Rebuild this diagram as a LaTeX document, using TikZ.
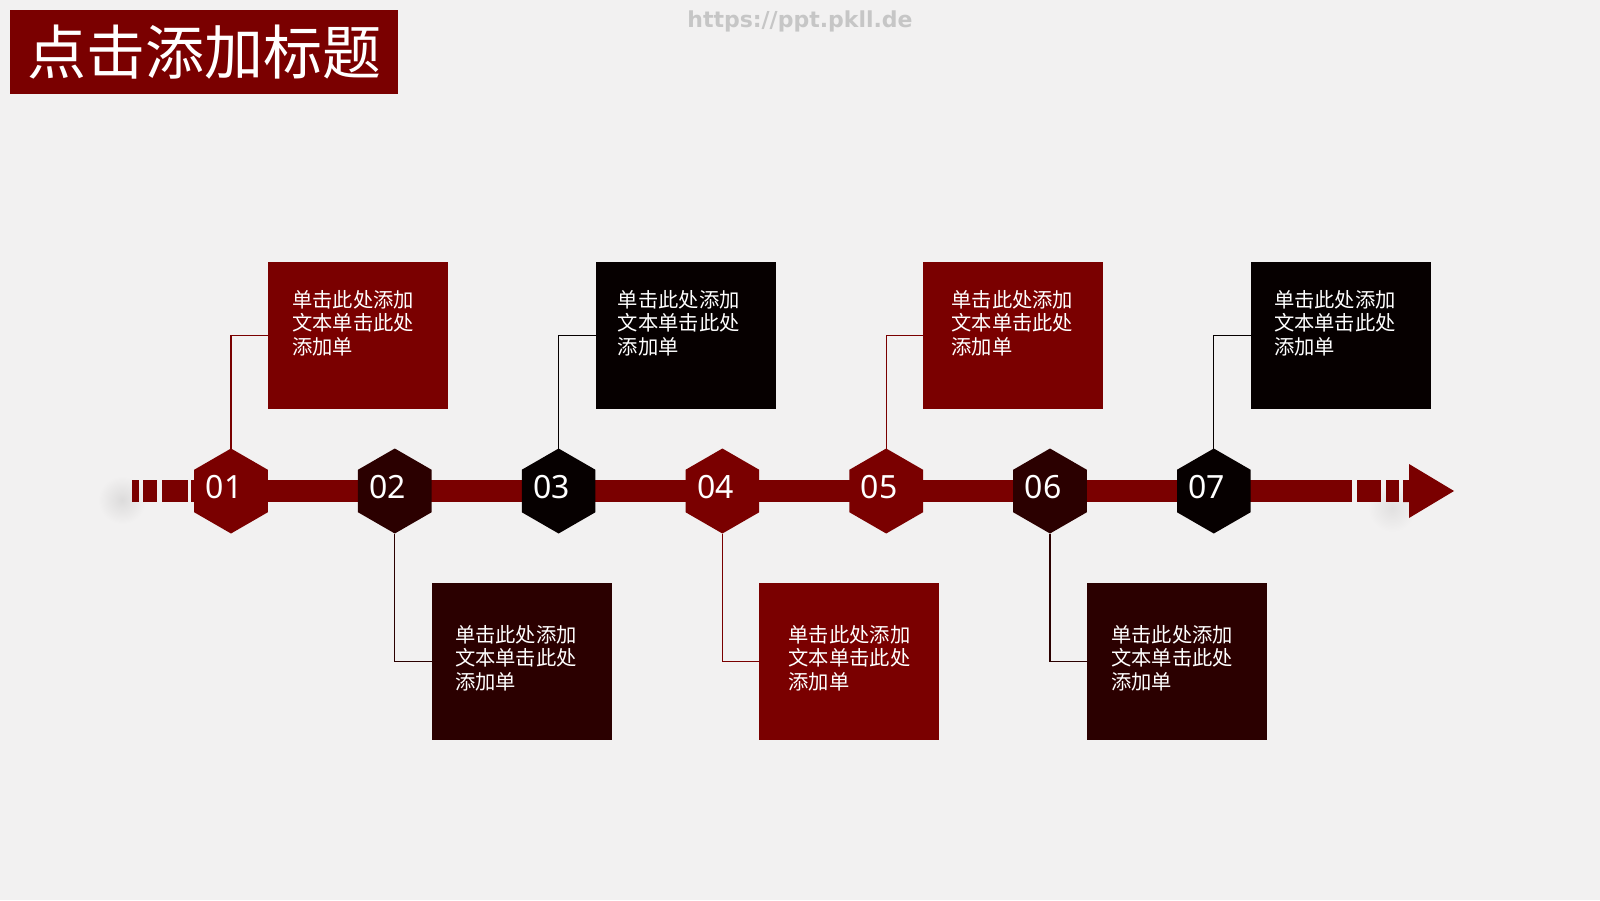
\documentclass[tikz,border=0pt]{standalone}
\usepackage{fontspec}
\setmainfont{Noto Sans CJK SC}
\newfontfamily\numfont{Noto Sans}
\newfontfamily\urlfont{DejaVu Sans}
\usetikzlibrary{shapes.geometric}
\definecolor{bgc}{HTML}{F2F1F1}
\definecolor{cred}{HTML}{7A0000}
\definecolor{cmar}{HTML}{2B0000}
\definecolor{cblk}{HTML}{060000}
\definecolor{urlgray}{HTML}{C6C6C6}
\begin{document}
\begin{tikzpicture}[x=1pt,y=-1pt,
  hexa/.style={regular polygon, regular polygon sides=6, shape border rotate=30,
    minimum size=85pt, inner sep=0pt, outer sep=0pt, fill=#1},
  infobox/.style={minimum width=180pt, inner sep=0pt, outer sep=0pt, fill=#1, anchor=north west},
  conn/.style={draw=#1, line width=1.2pt},
  boxtext/.style={text=white, text width=150pt, align=left, inner sep=0pt, anchor=base west,
    font=\fontsize{20.3}{23.5}\selectfont},
  num/.style={text=white, font=\numfont\fontsize{32}{32}\selectfont, inner sep=0pt}
]
\useasboundingbox (0,0) rectangle (1600,900);
\fill[bgc] (0,0) rectangle (1600,900);
% soft shadows
\shade[inner color=black!9!bgc, outer color=bgc] (122,500) circle (24);
\shade[inner color=black!7!bgc, outer color=bgc] (1392,508) circle (24);
% title
\node[fill=cred, minimum width=388pt, minimum height=84pt, inner sep=0pt, anchor=north west,
  text=white, font=\fontsize{59}{59}\selectfont] (title) at (10,10) {点击添加标题};
\node[text=urlgray, font=\urlfont\bfseries\fontsize{22}{22}\selectfont] (url) at (800,21) {https://ppt.pkll.de};
% arrow bar
\fill[cred] (132,480) rectangle (139,502);
\fill[cred] (143,480) rectangle (157,502);
\fill[cred] (162,480) rectangle (188,502);
\fill[cred] (191,480) rectangle (1352,502);
\fill[cred] (1357,480) rectangle (1381,502);
\fill[cred] (1386,480) rectangle (1399,502);
\fill[cred] (1403,480) -- (1409,480) -- (1409,464) -- (1454,491) -- (1409,518) -- (1409,502) -- (1403,502) -- cycle;
% hexagons
\foreach \i/\c in {1/cred,2/cmar,3/cblk,4/cred,5/cred,6/cmar,7/cblk} {
  \pgfmathsetmacro\cx{231+163.8*(\i-1)}
  \node[hexa=\c, label={[num, xshift=-7pt, yshift=3.5pt]center:0\i}] (h\i) at (\cx,491) {};
}
% top boxes
\foreach \i/\c/\o in {1/cred/24,3/cblk/22,5/cred/28,7/cblk/23} {
  \pgfmathsetmacro\bx{231+163.8*(\i-1)+37}
  \node[infobox=\c, minimum height=147pt] (b\i) at (\bx,262) {};
  \node[boxtext] (t\i) at (\bx+\o,307) {单击此处添加\\文本单击此处\\添加单};
  \draw[conn=\c] (h\i.north) |- (b\i.west);
}
% bottom boxes
\foreach \i/\c/\o in {2/cmar/23,4/cred/29,6/cmar/24} {
  \pgfmathsetmacro\bx{231+163.8*(\i-1)+37}
  \node[infobox=\c, minimum height=157pt] (b\i) at (\bx,583) {};
  \node[boxtext] (t\i) at (\bx+\o,642) {单击此处添加\\文本单击此处\\添加单};
  \draw[conn=\c] (h\i.south) |- (b\i.west);
}
\end{tikzpicture}
\end{document}
